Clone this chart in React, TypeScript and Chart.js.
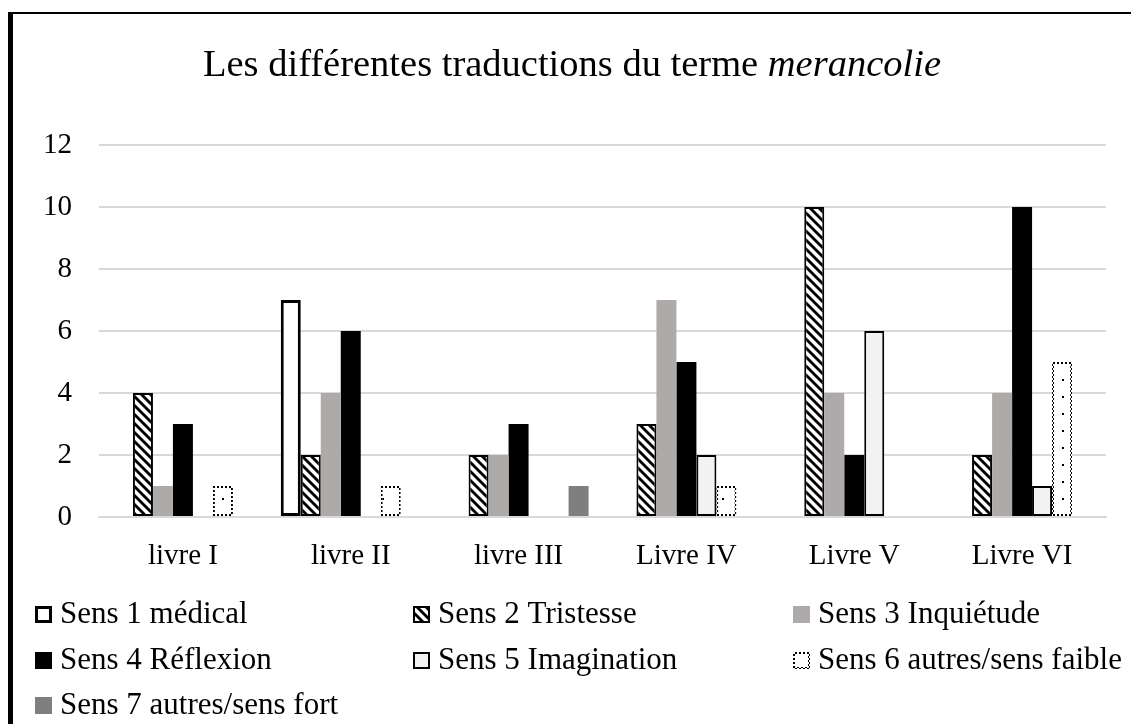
import React, { useEffect, useRef } from "react";
import { Chart, registerables } from "chart.js";

Chart.register(...registerables);

const categories = ["livre I", "livre II", "livre III", "Livre IV", "Livre V", "Livre VI"];
const seriesNames = [
  "Sens 1 médical",
  "Sens 2 Tristesse",
  "Sens 3 Inquiétude",
  "Sens 4 Réflexion",
  "Sens 5 Imagination",
  "Sens 6 autres/sens faible",
  "Sens 7 autres/sens fort",
];
const sens1 = [0, 7, 0, 0, 0, 0];
const sens2 = [4, 2, 2, 3, 10, 2];
const sens3 = [1, 4, 2, 7, 4, 4];
const sens4 = [3, 6, 3, 5, 2, 10];
const sens5 = [0, 0, 0, 2, 6, 1];
const sens6 = [1, 1, 0, 1, 0, 5];
const sens7 = [0, 0, 1, 0, 0, 0];
const yTicks = [0, 2, 4, 6, 8, 10, 12];

const titleNormal = "Les différentes traductions du terme ";
const titleItalic = "merancolie";

const FONT = '"Liberation Serif", "Times New Roman", serif';

function makeCanvas(w: number, h: number) {
  const c = document.createElement("canvas");
  c.width = w;
  c.height = h;
  return c;
}

function hatchPattern(ctx: CanvasRenderingContext2D): CanvasPattern {
  const s = 9;
  const c = makeCanvas(s, s);
  const g = c.getContext("2d")!;
  g.fillStyle = "#fff";
  g.fillRect(0, 0, s, s);
  g.strokeStyle = "#000";
  g.lineWidth = 2.8;
  for (const o of [-s, 0, s]) {
    g.beginPath();
    g.moveTo(o - 1, -1);
    g.lineTo(o + s + 1, s + 1);
    g.stroke();
  }
  return ctx.createPattern(c, "repeat")!;
}

function dotsPattern(ctx: CanvasRenderingContext2D): CanvasPattern {
  const c = makeCanvas(20, 17);
  const g = c.getContext("2d")!;
  g.fillStyle = "#fff";
  g.fillRect(0, 0, 20, 17);
  g.fillStyle = "#000";
  g.fillRect(9, 8, 2, 2);
  return ctx.createPattern(c, "repeat")!;
}

function dottedBorderPattern(ctx: CanvasRenderingContext2D): CanvasPattern {
  const c = makeCanvas(4, 4);
  const g = c.getContext("2d")!;
  g.fillStyle = "#fff";
  g.fillRect(0, 0, 4, 4);
  g.fillStyle = "#000";
  g.fillRect(0, 0, 2, 2);
  g.fillRect(2, 2, 2, 2);
  return ctx.createPattern(c, "repeat")!;
}

function drawSwatch(
  ctx: CanvasRenderingContext2D,
  x: number,
  y: number,
  s: number,
  bg: any,
  border: any,
  bw: number
) {
  if (bw > 0) {
    ctx.fillStyle = border;
    ctx.fillRect(x, y, s, s);
  }
  ctx.fillStyle = bg;
  ctx.fillRect(x + bw, y + bw, s - 2 * bw, s - 2 * bw);
}

export default function App() {
  const ref = useRef<HTMLCanvasElement | null>(null);

  useEffect(() => {
    const canvas = ref.current!;
    const ctx = canvas.getContext("2d")!;
    const hatch = hatchPattern(ctx);
    const dots = dotsPattern(ctx);
    const dotted = dottedBorderPattern(ctx);

    const styles = [
      { bg: "#ffffff", border: "#000000", bw: 3, lbw: 3 },
      { bg: hatch, border: "#000000", bw: 2, lbw: 2 },
      { bg: "#AEAAAA", border: "#AEAAAA", bw: 0, lbw: 0 },
      { bg: "#000000", border: "#000000", bw: 0, lbw: 0 },
      { bg: "#F2F2F2", border: "#000000", bw: 2, lbw: 2 },
      { bg: dots, border: dotted, bw: 2, lbw: 2 },
      { bg: "#7F7F7F", border: "#7F7F7F", bw: 0, lbw: 0 },
    ];
    const values = [sens1, sens2, sens3, sens4, sens5, sens6, sens7];

    const overlay = {
      id: "overlay",
      afterDraw(chart: any) {
        const c: CanvasRenderingContext2D = chart.ctx;
        c.save();
        // Title
        c.fillStyle = "#000";
        c.textBaseline = "alphabetic";
        c.font = `38.5px ${FONT}`;
        const w1 = c.measureText(titleNormal).width;
        c.font = `italic 38.5px ${FONT}`;
        const w2 = c.measureText(titleItalic).width;
        const startX = (chart.width - w1 - w2) / 2;
        c.font = `38.5px ${FONT}`;
        c.fillText(titleNormal, startX, 62);
        c.font = `italic 38.5px ${FONT}`;
        c.fillText(titleItalic, startX + w1, 62);

        // Legend
        const colX = [22, 400, 780];
        const rowY = [592, 638, 683];
        const box = 17;
        c.font = `31px ${FONT}`;
        chart.data.datasets.forEach((ds: any, i: number) => {
          const col = i % 3;
          const row = Math.floor(i / 3);
          const x = colX[col];
          const y = rowY[row];
          const st = styles[i];
          drawSwatch(c, x, y, box, ds.backgroundColor, ds.borderColor, st.lbw);
          c.fillStyle = "#000";
          c.fillText(ds.label, x + 25, y + box);
        });
        c.restore();
      },
    };

    const chart = new Chart(canvas, {
      type: "bar",
      data: {
        labels: categories,
        datasets: values.map((v, i) => ({
          label: seriesNames[i],
          data: v,
          backgroundColor: styles[i].bg,
          borderColor: styles[i].border,
          borderWidth: styles[i].bw,
          borderSkipped: false,
          barPercentage: 1,
          categoryPercentage: 0.834,
        })),
      },
      options: {
        animation: false,
        responsive: false,
        devicePixelRatio: 1,
        layout: { padding: { top: 131, right: 25, bottom: 0, left: 0 } },
        plugins: {
          legend: { display: false },
          title: { display: false },
          tooltip: { enabled: false },
        },
        scales: {
          x: {
            grid: { display: false, drawTicks: false },
            border: { display: true, color: "#D9D9D9", width: 2 },
            ticks: { color: "#000", font: { family: FONT, size: 29 }, padding: 22 },
            afterFit: (s: any) => {
              s.height = 207;
            },
          },
          y: {
            min: 0,
            max: 12,
            grid: { color: "#D9D9D9", lineWidth: 2, drawTicks: false },
            border: { display: false },
            ticks: { color: "#000", font: { family: FONT, size: 29 }, padding: 27 },
            afterBuildTicks: (s: any) => {
              s.ticks = yTicks.map((v) => ({ value: v }));
            },
            afterFit: (s: any) => {
              s.width = 86;
            },
          },
        },
      },
      plugins: [overlay],
    } as any);

    return () => {
      chart.destroy();
    };
  }, []);

  return (
    <div
      style={{
        position: "absolute",
        left: 8,
        top: 12,
        width: 1123,
        height: 712,
        boxSizing: "border-box",
        borderLeft: "5px solid #000",
        borderTop: "2px solid #000",
        background: "#fff",
        overflow: "hidden",
      }}
    >
      <canvas ref={ref} width={1118} height={710} style={{ display: "block" }} />
    </div>
  );
}
